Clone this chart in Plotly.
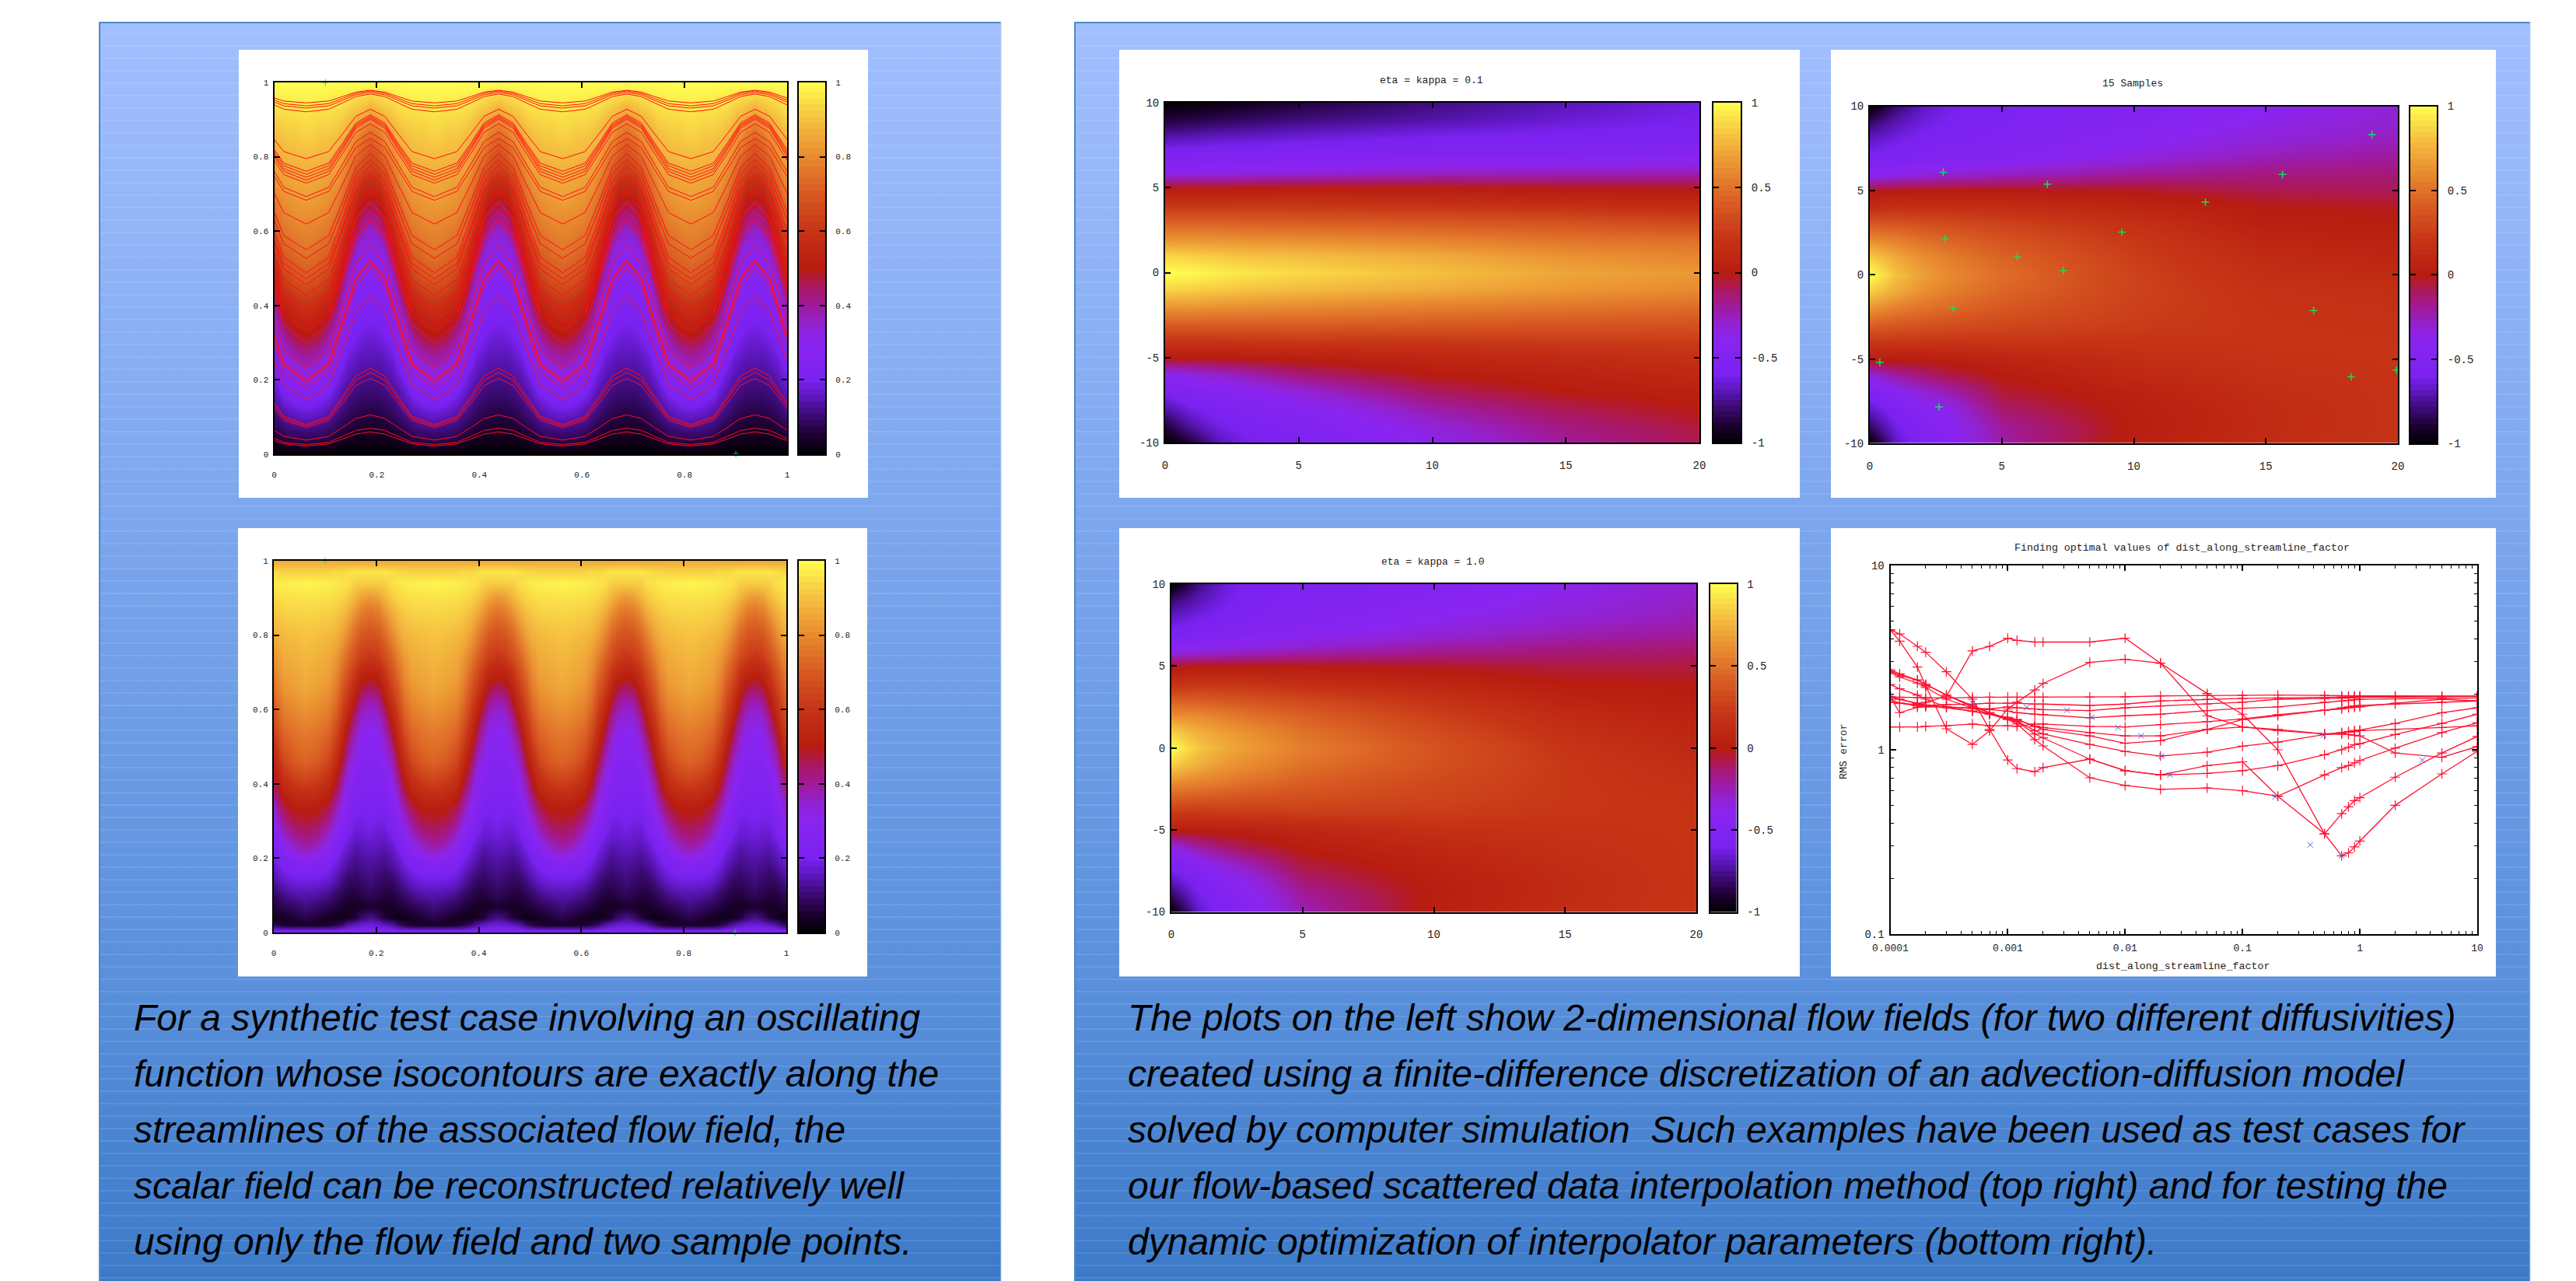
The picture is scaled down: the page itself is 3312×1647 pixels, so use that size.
import plotly.graph_objects as go

W, H = 3312, 1647

# ---------- palette (gnuplot style) ----------
PALETTE = [[0, "#000000"], [0.05, "#1c0030"], [0.1, "#3a0a70"], [0.15, "#5a16b8"], [0.2, "#7a22f0"],
           [0.3, "#8a24f0"], [0.35, "#9222d0"], [0.4, "#a01a9c"], [0.45, "#aa1860"], [0.5, "#b81c10"],
           [0.6, "#c63416"], [0.7, "#d85a22"], [0.8, "#e88a30"], [0.9, "#f5c040"], [1, "#ffff50"]]

# ---------- sine-flow fields: half a period of columns, valley to peak ----------
A_Y = [0, .04, .08, .12, .16, .20, .24, .28, .32, .36, .40, .44, .48, .52, .56, .60, .64, .68, .72, .76, .80, .84, .88, .92, .96, 1]
A_COL0 = [0, .08, .13, .19, .24, .30, .37, .43, .50, .54, .60, .65, .70, .74, .77, .79, .81, .84, .85, .87, .89, .92, .94, .96, .98, 1]
A_COL1 = [0, .074, .124, .175, .228, .282, .337, .402, .476, .524, .578, .634, .684, .72, .75, .778, .805, .826, .846, .867, .887, .908, .93, .95, .977, 1]
A_COL2 = [0, .065, .11, .15, .2, .24, .29, .34, .40, .47, .53, .585, .64, .69, .725, .755, .785, .81, .83, .85, .88, .90, .925, .95, .975, 1]
A_COL3 = [0, .05, .09, .126, .16, .2, .236, .276, .31, .37, .44, .507, .552, .615, .667, .72, .747, .78, .813, .839, .863, .889, .916, .945, .972, 1]
A_COL4 = [0, .04, .075, .11, .135, .165, .20, .23, .26, .29, .33, .385, .46, .52, .575, .63, .69, .73, .765, .805, .835, .87, .90, .935, .965, 1]
A_COL5 = [0, .033, .063, .092, .118, .141, .165, .196, .222, .247, .273, .299, .342, .405, .477, .533, .597, .652, .707, .75, .792, .835, .876, .916, .958, 1]
A_COL6 = [0, .03, .055, .08, .105, .13, .15, .175, .20, .22, .245, .27, .29, .32, .37, .45, .505, .565, .63, .685, .74, .79, .845, .90, .95, 1]
A_COL7 = [0, .026, .052, .073, .098, .12, .139, .16, .185, .208, .228, .248, .27, .293, .322, .374, .432, .49, .57, .637, .693, .74, .80, .883, .938, 1]
A_COL8 = [0, .03, .05, .07, .095, .12, .14, .16, .18, .205, .225, .245, .27, .29, .31, .35, .41, .48, .55, .62, .66, .71, .77, .85, .93, 1]

B_Y = [0, .02, .04, .07, .10, .14, .18, .22, .26, .30, .34, .38, .42, .46, .50, .54, .58, .62, .66, .70, .74, .78, .82, .86, .90, .94, .97, 1]
B_COL0 = [.25, .04, .07, .11, .14, .19, .24, .37, .43, .475, .52, .59, .66, .72, .745, .77, .80, .83, .855, .87, .885, .90, .915, .935, .955, .985, .93, .86]
B_COL1 = [.25, .04, .055, .09, .135, .185, .235, .335, .41, .465, .515, .575, .64, .70, .73, .755, .785, .815, .84, .855, .87, .887, .909, .93, .953, .98, .93, .86]
B_COL2 = [.25, .045, .04, .075, .115, .167, .208, .268, .348, .407, .47, .535, .59, .645, .69, .725, .76, .79, .82, .845, .86, .878, .90, .925, .95, .975, .93, .86]
B_COL3 = [.25, .07, .03, .06, .09, .14, .178, .219, .268, .332, .391, .455, .51, .56, .61, .655, .695, .735, .77, .80, .826, .859, .886, .913, .942, .97, .94, .855]
B_COL4 = [.245, .1, .025, .05, .075, .11, .15, .184, .222, .265, .313, .36, .412, .47, .52, .565, .61, .65, .69, .734, .778, .822, .86, .895, .932, .96, .94, .85]
B_COL5 = [.24, .14, .04, .04, .06, .09, .125, .157, .19, .225, .255, .285, .32, .36, .41, .465, .52, .575, .626, .671, .716, .763, .813, .861, .91, .95, .95, .85]
B_COL6 = [.235, .16, .06, .035, .06, .085, .11, .136, .168, .19, .215, .24, .27, .30, .33, .37, .42, .48, .54, .60, .659, .707, .752, .812, .876, .924, .96, .85]
B_COL7 = [.225, .175, .1, .045, .07, .095, .12, .145, .17, .19, .205, .225, .245, .265, .29, .31, .345, .40, .47, .545, .618, .665, .714, .767, .836, .922, .96, .85]
B_COL8 = [.22, .18, .12, .05, .08, .11, .13, .15, .18, .20, .21, .23, .25, .27, .28, .30, .33, .37, .45, .53, .60, .65, .70, .75, .82, .92, .96, .85]

# x offset from a valley of each column over one 0.25 period, and which column sits there
FIELD_OFFSETS = [0, .0222, .0437, .0585, .071, .0836, .0968, .1097, .125, .1403, .1532, .1664, .179, .1915, .2063, .2278]
FIELD_COLUMN = [0, 1, 2, 3, 4, 5, 6, 7, 8, 7, 6, 5, 4, 3, 2, 1]
VALLEYS = [-.1875, .0625, .3125, .5625, .8125, 1.0625]
LINE_OFFSETS = [0, .0437, .071, .0968, .125, .1532, .179, .2063]
LINE_VERTEX = [0, 1, 2, 3, 4, 3, 2, 1]

# isocontours: y at valley, near-valley, midway, near-peak, peak
STREAMLINES = [
    [.945, .950, .962, .974, .979], [.937, .943, .957, .971, .977], [.931, .937, .952, .967, .973],
    [.921, .928, .945, .962, .969], [.795, .814, .862, .909, .928], [.761, .783, .837, .891, .913],
    [.753, .776, .831, .886, .909], [.745, .768, .825, .882, .905], [.737, .761, .819, .877, .901],
    [.729, .752, .809, .866, .889], [.693, .718, .780, .841, .866], [.683, .707, .766, .825, .849],
    [.619, .650, .726, .802, .833], [.550, .588, .680, .771, .809], [.527, .566, .660, .754, .793],
    [.488, .530, .633, .735, .777], [.472, .513, .613, .712, .753], [.456, .499, .605, .710, .753],
    [.428, .470, .573, .675, .717], [.392, .438, .549, .659, .705], [.380, .424, .531, .637, .681],
    [.356, .403, .517, .630, .677], [.336, .383, .497, .610, .657], [.328, .373, .483, .592, .637],
    [.300, .348, .465, .581, .629], [.232, .280, .396, .511, .559], [.200, .247, .362, .477, .524],
    [.196, .243, .358, .473, .520], [.192, .239, .354, .469, .516], [.176, .223, .338, .453, .500],
    [.146, .187, .285, .383, .424], [.080, .102, .156, .210, .232], [.076, .097, .148, .199, .220],
    [.072, .091, .138, .185, .204], [.038, .048, .072, .096, .106], [.026, .032, .048, .064, .070],
    [.022, .028, .041, .054, .060]]
WAVE_SAMPLES_X = [0.1, 0.9]
WAVE_SAMPLES_Y = [1.0, 0.0]

# ---------- channel-flow fields ----------
FLOW_Y = [10, 9, 8, 7, 6, 5, 4, 3, 2, 1, 0, -1, -2, -3, -4, -5, -6, -7, -8, -9, -10]
FLOW_X = [0, 1, 2, 3, 5, 10, 15, 20]

C_X0 = [-1, -.88, -.72, -.55, -.42, -.02, .2, .42, .63, .87, 1, .87, .65, .42, .2, 0, -.4, -.58, -.72, -.88, -1]
C_X1 = [-.98, -.86, -.7, -.55, -.42, -.02, .2, .42, .63, .85, .98, .85, .65, .42, .2, 0, -.35, -.5, -.62, -.72, -.88]
C_X2 = [-.96, -.84, -.68, -.54, -.41, -.02, .2, .42, .62, .83, .95, .83, .63, .42, .2, 0, -.3, -.46, -.56, -.62, -.7]
C_X3 = [-.93, -.82, -.67, -.54, -.4, -.01, .2, .41, .61, .81, .92, .81, .62, .42, .21, .01, -.25, -.42, -.52, -.57, -.62]
C_X5 = [-.88, -.78, -.65, -.52, -.38, 0, .2, .4, .6, .79, .88, .78, .6, .42, .22, .03, -.14, -.32, -.45, -.52, -.56]
C_X10 = [-.78, -.72, -.6, -.5, -.32, 0, .18, .38, .56, .72, .8, .72, .56, .4, .22, .08, 0, -.1, -.22, -.32, -.38]
C_X15 = [-.7, -.65, -.58, -.5, -.3, -.02, .15, .35, .5, .63, .7, .65, .52, .38, .24, .12, .05, 0, -.08, -.15, -.2]
C_X20 = [-.62, -.6, -.55, -.48, -.28, -.03, .12, .3, .48, .58, .65, .6, .48, .36, .25, .16, .1, .04, 0, -.05, -.08]

D_X0 = [-1, -.8, -.68, -.58, -.42, -.03, .15, .4, .62, .85, 1, .85, .63, .42, .22, .02, -.35, -.55, -.68, -.82, -1]
D_X1 = [-.8, -.7, -.62, -.55, -.38, -.01, .17, .38, .57, .72, .8, .72, .55, .38, .2, .02, -.22, -.42, -.55, -.62, -.68]
D_X2 = [-.68, -.63, -.58, -.52, -.35, 0, .17, .35, .5, .62, .68, .62, .5, .36, .2, .02, -.15, -.32, -.45, -.52, -.55]
D_X3 = [-.62, -.59, -.56, -.5, -.32, 0, .17, .33, .45, .55, .6, .55, .46, .33, .2, .03, -.08, -.25, -.37, -.42, -.45]
D_X5 = [-.56, -.55, -.53, -.47, -.28, 0, .15, .28, .37, .44, .48, .45, .38, .3, .2, .07, 0, -.05, -.12, -.2, -.22]
D_X10 = [-.5, -.48, -.42, -.35, -.2, -.02, .08, .17, .22, .25, .27, .27, .26, .24, .2, .14, .1, .05, .03, .02, .04]
D_X15 = [-.4, -.37, -.33, -.25, -.15, -.08, 0, .03, .08, .12, .15, .18, .19, .2, .2, .18, .16, .14, .12, .12, .13]
D_X20 = [-.32, -.3, -.26, -.2, -.14, -.09, -.02, .02, .05, .08, .12, .15, .17, .18, .2, .2, .19, .18, .18, .18, .19]

E_X0 = [-1, -.8, -.68, -.58, -.42, -.03, .15, .4, .62, .85, 1, .85, .63, .42, .22, .02, -.35, -.55, -.68, -.82, -1]
E_X1 = [-.78, -.7, -.62, -.55, -.38, -.01, .18, .4, .6, .74, .82, .74, .58, .4, .2, .02, -.2, -.42, -.55, -.62, -.68]
E_X2 = [-.65, -.62, -.58, -.52, -.35, -.01, .18, .37, .55, .67, .72, .65, .54, .38, .22, .03, -.12, -.3, -.43, -.5, -.55]
E_X3 = [-.58, -.57, -.55, -.48, -.32, -.01, .17, .35, .5, .62, .66, .6, .5, .36, .22, .04, -.06, -.22, -.35, -.42, -.45]
E_X5 = [-.54, -.53, -.5, -.43, -.27, -.01, .14, .3, .42, .5, .55, .5, .42, .34, .24, .08, .02, -.05, -.12, -.2, -.25]
E_X10 = [-.48, -.45, -.4, -.33, -.2, -.03, .07, .18, .26, .32, .36, .35, .31, .28, .24, .16, .1, .06, .03, .02, .03]
E_X15 = [-.38, -.36, -.32, -.25, -.15, -.06, 0, .06, .12, .16, .2, .22, .22, .22, .21, .18, .16, .14, .12, .12, .14]
E_X20 = [-.3, -.28, -.25, -.2, -.12, -.06, -.01, .02, .05, .08, .1, .13, .16, .18, .2, .2, .2, .2, .2, .2, .21]

SAMPLES_X = [2.78, 6.72, 15.63, 19.02, 12.71, 9.55, 2.85, 5.59, 7.33, 3.16, 16.81, 0.38, 18.23, 19.95, 2.62]
SAMPLES_Y = [6.08, 5.37, 5.95, 8.32, 4.31, 2.53, 2.12, 1.06, 0.25, -2.0, -2.12, -5.19, -6.06, -5.65, -7.84]

# ---------- RMS error curves ----------
FACTOR = [1e-4, 1.2e-4, 1.7e-4, 2e-4, 3e-4, 5e-4, 7e-4, 1e-3, 1.2e-3, 1.7e-3, 2e-3, 5e-3, .01, .02, .05, .1, .2, .5, .7, .8, .9, 1, 2, 5, 10]
RMS_CURVES = [
    [1.93, 1.59, 1.70, 1.81, 1.95, 3.44, 3.64, 4.03, 3.92, 3.84, 3.84, 3.84, 4.03, 2.95, 1.53, 1.33, 1.27, 1.22, 1.22, 1.21, 1.20, 1.19, .96, .91, 1.04],
    [4.47, 3.88, 2.81, 2.22, 1.30, 1.07, 1.27, 1.665, 1.81, 2.11, 2.29, 2.98, 3.10, 2.95, 2.02, 1.56, 1.00, .35, .45, .49, .53, .55, .71, .96, 1.18],
    [4.47, 4.25, 3.64, 3.38, 2.65, 1.88, 1.29, .88, .79, .76, .80, .89, .77, .73, .82, .86, .56, .35, .266, .276, .297, .32, .50, .74, .98],
    [2.62, 2.48, 2.30, 2.18, 1.88, 1.68, 1.56, 1.46, 1.38, 1.135, 1.05, .705, .64, .61, .62, .60, .56, .73, .80, .82, .85, .875, 1.02, 1.24, 1.40],
    [2.72, 2.58, 2.39, 2.26, 1.98, 1.74, 1.59, 1.47, 1.42, 1.22, 1.16, .89, .77, .73, .745, .77, .82, .94, 1.00, 1.03, 1.065, 1.08, 1.21, 1.39, 1.56],
    [2.67, 2.53, 2.39, 2.26, 1.98, 1.71, 1.59, 1.47, 1.43, 1.27, 1.22, 1.07, .98, .925, .97, 1.045, 1.10, 1.21, 1.22, 1.255, 1.27, 1.28, 1.39, 1.59, 1.69],
    [2.26, 2.14, 1.98, 1.88, 1.71, 1.62, 1.56, 1.50, 1.46, 1.34, 1.29, 1.19, 1.085, 1.12, 1.29, 1.33, 1.29, 1.22, 1.24, 1.245, 1.255, 1.27, 1.29, 1.32, 1.35],
    [1.93, 1.88, 1.79, 1.74, 1.69, 1.62, 1.56, 1.50, 1.46, 1.34, 1.32, 1.24, 1.19, 1.19, 1.29, 1.46, 1.53, 1.64, 1.665, 1.69, 1.70, 1.71, 1.79, 1.88, 1.84],
    [1.33, 1.33, 1.33, 1.34, 1.35, 1.38, 1.35, 1.35, 1.34, 1.38, 1.38, 1.34, 1.33, 1.37, 1.42, 1.47, 1.55, 1.64, 1.69, 1.71, 1.73, 1.74, 1.77, 1.81, 1.84],
    [1.95, 1.88, 1.79, 1.75, 1.71, 1.68, 1.65, 1.62, 1.59, 1.56, 1.55, 1.49, 1.53, 1.56, 1.63, 1.68, 1.71, 1.81, 1.84, 1.85, 1.87, 1.88, 1.89, 1.905, 1.91],
    [1.88, 1.79, 1.73, 1.71, 1.71, 1.68, 1.665, 1.71, 1.69, 1.665, 1.65, 1.63, 1.69, 1.73, 1.77, 1.81, 1.88, 1.89, 1.905, 1.91, 1.92, 1.93, 1.93, 1.94, 1.95],
    [1.81, 1.79, 1.76, 1.74, 1.76, 1.77, 1.79, 1.79, 1.79, 1.77, 1.77, 1.74, 1.77, 1.84, 1.88, 1.90, 1.91, 1.925, 1.93, 1.93, 1.935, 1.935, 1.95, 1.95, 1.95],
    [1.93, 1.93, 1.92, 1.92, 1.91, 1.93, 1.93, 1.93, 1.93, 1.93, 1.93, 1.93, 1.94, 1.96, 1.97, 1.97, 1.98, 1.97, 1.96, 1.96, 1.96, 1.96, 1.96, 1.95, 1.95]]
OPTIMA_X = [1e-4, 5e-4, 1.45e-3, 3.2e-3, 5.2e-3, 8.7e-3, 1.37e-2, 2.04e-2, 2.41e-2, .19, .378, .49, .7, 3.41]
OPTIMA_Y = [1.93, 1.79, 1.70, 1.64, 1.50, 1.32, 1.19, .925, .73, .555, .305, 1.20, .266, .88]

# ---------- text ----------
LEFT_CAPTION = ["For a synthetic test case involving an oscillating",
                "function whose isocontours are exactly along the",
                "streamlines of the associated flow field, the",
                "scalar field can be reconstructed relatively well",
                "using only the flow field and two sample points."]
RIGHT_CAPTION = ["The plots on the left show 2-dimensional flow fields (for two different diffusivities)",
                 "created using a finite-difference discretization of an advection-diffusion model",
                 "solved by computer simulation  Such examples have been used as test cases for",
                 "our flow-based scattered data interpolation method (top right) and for testing the",
                 "dynamic optimization of interpolator parameters (bottom right)."]
CAPTION_BASELINES = [1324, 1396, 1468, 1540, 1612]

UNIT_TICKS = [0, .2, .4, .6, .8, 1]
UNIT_LABELS = ["0", "0.2", "0.4", "0.6", "0.8", "1"]
FLOW_XTICKS = [0, 5, 10, 15, 20]
FLOW_YTICKS = [-10, -5, 0, 5, 10]
BAR_TICKS = [-1, -.5, 0, .5, 1]
BAR_LABELS = ["-1", "-0.5", "0", "0.5", "1"]
LOG_X_TICKS = [1e-4, 1e-3, .01, .1, 1, 10]
LOG_X_LABELS = ["0.0001", "0.001", "0.01", "0.1", "1", "10"]
LOG_Y_TICKS = [.1, 1, 10]
LOG_Y_LABELS = ["0.1", "1", "10"]

MONO = "Liberation Mono"
fig = go.Figure()
layout = dict()
axis_n = [1]


def new_axes(box, xopts, yopts):
    """Allocate an x/y axis pair placed at a pixel box (x0, y0, x1, y1)."""
    axis_n[0] += 1
    n = axis_n[0]
    x0, y0, x1, y1 = box
    base = dict(showgrid=False, zeroline=False, showline=True, linecolor="#000", linewidth=2, automargin=False,
                mirror="allticks", ticks="inside", tickcolor="#000", tickwidth=2, ticklen=7)
    layout[f"xaxis{n}"] = dict(base, domain=[x0 / W, x1 / W], anchor=f"y{n}", **xopts)
    layout[f"yaxis{n}"] = dict(base, domain=[1 - y1 / H, 1 - y0 / H], anchor=f"x{n}", **yopts)
    return f"x{n}", f"y{n}"


def tickset(vals, labels, size, **kw):
    return dict(tickmode="array", tickvals=vals, ticktext=labels,
                tickfont=dict(family=MONO, size=size, color="#222"), **kw)


def field(columns, xs, ys, zmin, zmax, xa, ya):
    rows = [list(r) for r in zip(*columns)]
    fig.add_trace(go.Heatmap(z=rows, x=xs, y=ys, zmin=zmin, zmax=zmax, colorscale=PALETTE, showscale=False,
                             zsmooth="best", hoverinfo="skip", xaxis=xa, yaxis=ya))


def color_bar(box, lo, hi, ticks, labels, size):
    levels = [lo + (hi - lo) * i / 60 for i in range(61)]
    xa, ya = new_axes(box,
                      dict(range=[0, 1], showticklabels=False, ticks=""),
                      dict(range=[lo, hi], side="right", ticklabelstandoff=9, **tickset(ticks, labels, size)))
    fig.add_trace(go.Heatmap(z=[[v] for v in levels], y=levels, x=[0.5], zmin=lo, zmax=hi, colorscale=PALETTE,
                             showscale=False, zsmooth=False, hoverinfo="skip", xaxis=xa, yaxis=ya))


def note(text, x, y, size, **kw):
    layout.setdefault("annotations", []).append(
        dict(text=text, x=x, y=y, xref="x", yref="y", showarrow=False,
             font=dict(family=MONO, size=size, color="#222"), **kw))


# ---------- slide background on a full-page pixel axis ----------
layout["xaxis"] = dict(domain=[0, 1], range=[0, W], visible=False, fixedrange=True, automargin=False)
layout["yaxis"] = dict(domain=[0, 1], range=[H, 0], visible=False, fixedrange=True, automargin=False)

GRADIENT = [[0, "#a2bfff"], [0.4, "#7ca6ee"], [0.76, "#5a90dc"], [1, "#3c7ac8"]]
PANELS = [(127, 1287), (1381, 3253)]
TOP = 28
for left, right in PANELS:
    fig.add_trace(go.Scatter(x=[left, right, right, left, left], y=[TOP, TOP, H, H, TOP], mode="lines",
                             line=dict(width=0), fill="toself", hoverinfo="skip",
                             fillgradient=dict(type="vertical", colorscale=GRADIENT, start=TOP, stop=H)))
    sx, sy = [], []
    for y in range(43, H, 16):
        sx += [left + 2, right - 1, None]
        sy += [y, y, None]
    fig.add_trace(go.Scatter(x=sx, y=sy, mode="lines", line=dict(color="rgba(255,255,255,0.2)", width=1), hoverinfo="skip"))
    fig.add_trace(go.Scatter(x=[left + 1, left + 1, right], y=[H, TOP + 1, TOP + 1], mode="lines",
                             line=dict(color="#5088c8", width=2), hoverinfo="skip"))
    fig.add_trace(go.Scatter(x=[right, right], y=[TOP, H], mode="lines",
                             line=dict(color="#b8d0f8", width=1), hoverinfo="skip"))

WHITE_BOXES = [(307, 64, 1116, 640), (306, 679, 1115, 1255.5), (1439, 64, 2314, 640),
               (2354, 64, 3209, 640), (1439, 679, 2314, 1255.5), (2354, 679, 3209, 1255.5)]
for x0, y0, x1, y1 in WHITE_BOXES:
    fig.add_trace(go.Scatter(x=[x0, x1, x1, x0, x0], y=[y0, y0, y1, y1, y0], mode="lines", fill="toself",
                             fillcolor="#ffffff", line=dict(width=0), hoverinfo="skip"))

# ---------- wave plots ----------
a_phases = [A_COL0, A_COL1, A_COL2, A_COL3, A_COL4, A_COL5, A_COL6, A_COL7, A_COL8]
b_phases = [B_COL0, B_COL1, B_COL2, B_COL3, B_COL4, B_COL5, B_COL6, B_COL7, B_COL8]
field_x, field_idx = [], []
for v in VALLEYS:
    for off, idx in zip(FIELD_OFFSETS, FIELD_COLUMN):
        if -0.08 <= v + off <= 1.08:
            field_x.append(v + off)
            field_idx.append(idx)
line_x, line_idx = [], []
for v in VALLEYS:
    for off, idx in zip(LINE_OFFSETS, LINE_VERTEX):
        if -0.08 <= v + off <= 1.08:
            line_x.append(v + off)
            line_idx.append(idx)

wave_tick_x = dict(range=[0, 1], ticklabelstandoff=15, **tickset(UNIT_TICKS, UNIT_LABELS, 11))
wave_tick_y = dict(range=[0, 1], ticklabelstandoff=3, **tickset(UNIT_TICKS, UNIT_LABELS, 11))

xa, ya = new_axes((352.5, 106, 1012, 584), wave_tick_x, wave_tick_y)
field([a_phases[i] for i in field_idx], field_x, A_Y, 0, 1, xa, ya)
for s in STREAMLINES:
    fig.add_trace(go.Scatter(x=line_x, y=[s[i] for i in line_idx], mode="lines",
                             line=dict(color="#ff1018", width=1), hoverinfo="skip", xaxis=xa, yaxis=ya))
fig.add_trace(go.Scatter(x=WAVE_SAMPLES_X, y=WAVE_SAMPLES_Y, mode="markers", cliponaxis=False, hoverinfo="skip",
                         marker=dict(symbol="cross-thin", size=6, line=dict(color="#10e060", width=1)), xaxis=xa, yaxis=ya))
color_bar((1027, 106, 1061, 584), 0, 1, UNIT_TICKS, UNIT_LABELS, 11)

xa, ya = new_axes((352, 721, 1011, 1199), wave_tick_x, wave_tick_y)
field([b_phases[i] for i in field_idx], field_x, B_Y, 0, 1, xa, ya)
fig.add_trace(go.Scatter(x=WAVE_SAMPLES_X, y=WAVE_SAMPLES_Y, mode="markers", cliponaxis=False, hoverinfo="skip",
                         marker=dict(symbol="cross-thin", size=6, line=dict(color="#10e060", width=1)), xaxis=xa, yaxis=ya))
color_bar((1027, 721, 1060, 1199), 0, 1, UNIT_TICKS, UNIT_LABELS, 11)

# ---------- flow plots ----------
flow_x = dict(range=[0, 20], ticklabelstandoff=15, **tickset(FLOW_XTICKS, [str(v) for v in FLOW_XTICKS], 14))
flow_y = dict(range=[-10, 10], ticklabelstandoff=3, **tickset(FLOW_YTICKS, [str(v) for v in FLOW_YTICKS], 14))

xa, ya = new_axes((1498, 132, 2185, 569), flow_x, flow_y)
field([C_X0, C_X1, C_X2, C_X3, C_X5, C_X10, C_X15, C_X20], FLOW_X, FLOW_Y, -1, 1, xa, ya)
color_bar((2203, 132, 2238, 569), -1, 1, BAR_TICKS, BAR_LABELS, 14)
note("eta = kappa = 0.1", 1840, 103.5, 13)

xa, ya = new_axes((2404, 136.5, 3083, 570), flow_x, flow_y)
field([D_X0, D_X1, D_X2, D_X3, D_X5, D_X10, D_X15, D_X20], FLOW_X, FLOW_Y, -1, 1, xa, ya)
fig.add_trace(go.Scatter(x=SAMPLES_X, y=SAMPLES_Y, mode="markers", hoverinfo="skip",
                         marker=dict(symbol="cross-thin", size=7, line=dict(color="#10e060", width=1.5)), xaxis=xa, yaxis=ya))
color_bar((3099, 136.5, 3133, 570), -1, 1, BAR_TICKS, BAR_LABELS, 14)
note("15 Samples", 2742, 107, 13)

xa, ya = new_axes((1506, 751, 2181, 1172.5), flow_x, flow_y)
field([E_X0, E_X1, E_X2, E_X3, E_X5, E_X10, E_X15, E_X20], FLOW_X, FLOW_Y, -1, 1, xa, ya)
color_bar((2199, 751, 2232.5, 1172.5), -1, 1, BAR_TICKS, BAR_LABELS, 14)
note("eta = kappa = 1.0", 1842, 722, 13)

# ---------- RMS plot ----------
log_minor = dict(ticks="inside", ticklen=4, tickwidth=1, tickcolor="#000", showgrid=False, dtick="D1")
xa, ya = new_axes((2430.5, 727, 3185, 1201),
                  dict(type="log", range=[-4, 1], ticklabelstandoff=4, minor=log_minor, **tickset(LOG_X_TICKS, LOG_X_LABELS, 13)),
                  dict(type="log", range=[-1, 1], ticklabelstandoff=3, minor=log_minor, **tickset(LOG_Y_TICKS, LOG_Y_LABELS, 14)))
for curve in RMS_CURVES:
    fig.add_trace(go.Scatter(x=FACTOR, y=curve, mode="lines+markers", hoverinfo="skip", xaxis=xa, yaxis=ya,
                             line=dict(color="#ff1030", width=1.3),
                             marker=dict(symbol="cross-thin", size=9, color="#ff1030", line=dict(color="#ff1030", width=1.2))))
fig.add_trace(go.Scatter(x=OPTIMA_X, y=OPTIMA_Y, mode="markers", hoverinfo="skip", xaxis=xa, yaxis=ya,
                         marker=dict(symbol="x-thin", size=7, line=dict(color="#4060e8", width=1))))
note("Finding optimal values of dist_along_streamline_factor", 2805, 704, 13.3)
note("dist_along_streamline_factor", 2806, 1242, 13.3)
note("RMS error", 2370, 966, 13.3, textangle=-90)

# ---------- captions ----------
for lines, x in ((LEFT_CAPTION, 171), (RIGHT_CAPTION, 1449)):
    for text, base in zip(lines, CAPTION_BASELINES):
        layout["annotations"].append(dict(
            text=f"<i>{text}</i>", x=x, y=base + 12, xref="x", yref="y", xanchor="left", yanchor="bottom",
            showarrow=False, align="left", borderpad=0,
            font=dict(family="Liberation Sans", size=48, color="#000")))

fig.update_layout(width=W, height=H, margin=dict(l=0, r=0, t=0, b=0, autoexpand=False), showlegend=False,
                  paper_bgcolor="#ffffff", plot_bgcolor="rgba(0,0,0,0)", **layout)
fig.write_html("out.html", config=dict(displayModeBar=False),
               post_script="document.body.style.margin='0';document.body.style.overflow='hidden';")
